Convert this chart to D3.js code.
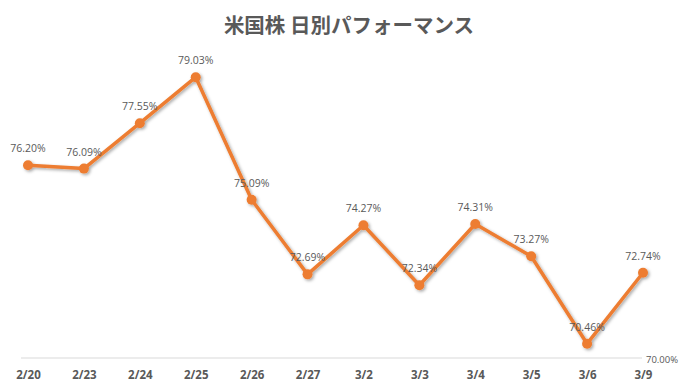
<!DOCTYPE html>
<html>
<head>
<meta charset="utf-8">
<script src="https://cdn.jsdelivr.net/npm/d3@7"></script>
<style>
  body { margin: 0; background: #fff; }
  svg { display: block; }
</style>
</head>
<body>
<svg id="chart" width="698" height="392"></svg>
<script>
var dates = ["2/20", "2/23", "2/24", "2/25", "2/26", "2/27", "3/2", "3/3", "3/4", "3/5", "3/6", "3/9"];
var values = [76.20, 76.09, 77.55, 79.03, 75.09, 72.69, 74.27, 72.34, 74.31, 73.27, 70.46, 72.74];
var axisMin = 70;

var svg = d3.select("#chart");
var textColor = "#595959";
var lineColor = "#ED7D31";

// drop shadow like the office chart
var defs = svg.append("defs");
var filter = defs.append("filter")
    .attr("id", "shadow")
    .attr("x", "-20%").attr("y", "-20%")
    .attr("width", "140%").attr("height", "140%");
filter.append("feDropShadow")
    .attr("dx", 1.5).attr("dy", 1.5)
    .attr("stdDeviation", 1.5)
    .attr("flood-color", "#000")
    .attr("flood-opacity", 0.35);

var x = d3.scalePoint().domain(dates).range([28, 643]);
var y = d3.scaleLinear().domain([70, 80]).range([358, 47]);

// title
svg.append("text")
    .attr("x", 349)
    .attr("y", 33)
    .attr("text-anchor", "middle")
    .style("font-family", "'Noto Sans CJK JP', 'Noto Sans', sans-serif")
    .style("font-weight", "bold")
    .style("font-size", "20.5px")
    .style("fill", textColor)
    .text("米国株 日別パフォーマンス");

// baseline
svg.append("line")
    .attr("x1", x(dates[0]) - 7)
    .attr("x2", x(dates[dates.length - 1]) - 1)
    .attr("y1", y(axisMin))
    .attr("y2", y(axisMin))
    .style("stroke", "#d9d9d9")
    .style("stroke-width", 1);

svg.append("text")
    .attr("x", 646)
    .attr("y", y(axisMin) + 5)
    .style("font-family", "'Open Sans', sans-serif")
    .style("font-size", "9.5px")
    .style("fill", textColor)
    .text(d3.format(".2f")(axisMin) + "%");

// category axis
var xAxis = svg.append("g")
    .attr("transform", "translate(0," + (y(axisMin) + 8) + ")")
    .call(d3.axisBottom(x).tickSize(0).tickPadding(5));
xAxis.select(".domain").remove();
xAxis.selectAll("text")
    .style("font-family", "'Open Sans', sans-serif")
    .style("font-weight", "bold")
    .style("font-size", "11.5px")
    .style("fill", textColor);

// line + markers
var line = d3.line()
    .x(function(d, i) { return x(dates[i]); })
    .y(function(d) { return y(d); });

var series = svg.append("g").attr("filter", "url(#shadow)");

series.append("path")
    .datum(values)
    .attr("d", line)
    .style("fill", "none")
    .style("stroke", lineColor)
    .style("stroke-width", 3.5)
    .style("stroke-linejoin", "round");

series.selectAll("circle")
    .data(values)
    .enter().append("circle")
    .attr("cx", function(d, i) { return x(dates[i]); })
    .attr("cy", function(d) { return y(d); })
    .attr("r", 5)
    .style("fill", lineColor);

// data labels
svg.selectAll(".label")
    .data(values)
    .enter().append("text")
    .attr("class", "label")
    .attr("x", function(d, i) { return x(dates[i]); })
    .attr("y", function(d) { return y(d) - 13; })
    .attr("text-anchor", "middle")
    .style("font-family", "'Open Sans', sans-serif")
    .style("font-size", "10.5px")
    .style("fill", textColor)
    .text(function(d) { return d3.format(".2f")(d) + "%"; });
</script>
</body>
</html>
